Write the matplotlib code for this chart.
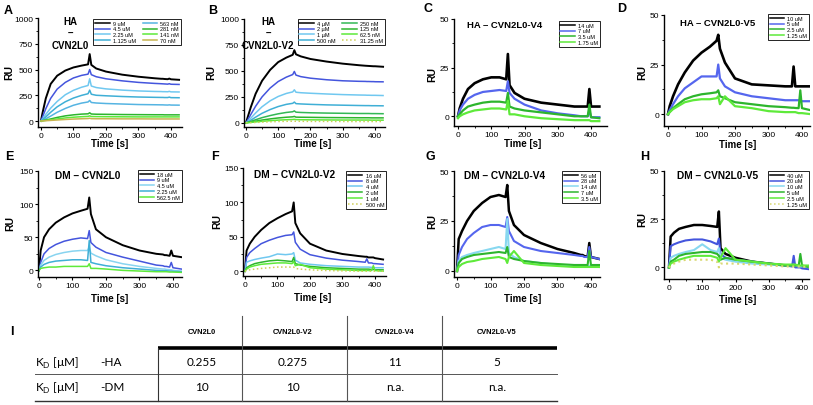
import numpy as np
import matplotlib
matplotlib.use('Agg')
import matplotlib.pyplot as plt
from matplotlib.ticker import MultipleLocator

plt.rcParams['font.family'] = ['Liberation Sans', 'DejaVu Sans']
plt.rcParams['mathtext.fontset'] = 'custom'
plt.rcParams['mathtext.rm'] = 'Lato'

# common time grid [s] of the sensorgrams
t = [0, 5, 15, 30, 50, 75, 100, 125, 145, 150, 155, 170, 200, 250, 300, 350, 370, 375, 380, 390, 395, 400, 425]

# A  HA - CVN2L0
a_9uM = [0, 80, 220, 360, 440, 490, 520, 538, 550, 650, 545, 510, 480, 450, 430, 415, 410, 410, 408, 406, 412, 405, 400]
a_4p5uM = [0, 40, 120, 220, 310, 375, 418, 443, 455, 500, 450, 430, 410, 390, 375, 365, 362, 361, 360, 358, 362, 357, 355]
a_2p25uM = [0, 20, 65, 125, 190, 255, 298, 328, 345, 410, 340, 325, 312, 300, 292, 287, 286, 285, 285, 284, 288, 283, 282]
a_1p125uM = [0, 12, 40, 85, 138, 187, 223, 249, 265, 300, 260, 250, 245, 238, 233, 230, 229, 229, 228, 228, 232, 227, 226]
a_563nM = [0, 6, 22, 48, 85, 122, 153, 174, 185, 200, 180, 175, 170, 165, 160, 158, 157, 157, 156, 155, 157, 155, 154]
a_281nM = [0, 3, 10, 20, 35, 50, 60, 67, 70, 80, 68, 66, 65, 63, 62, 61, 61, 61, 60, 60, 60, 60, 60]
a_141nM = [0, 2, 6, 12, 20, 30, 37, 42, 45, 50, 44, 43, 42, 41, 40, 40, 40, 40, 40, 40, 40, 40, 40]
a_70nM = [0, 1, 3, 6, 10, 15, 19, 22, 24, 27, 23, 22, 22, 21, 21, 20, 20, 20, 20, 20, 20, 20, 20]
a_labels = ['9 uM', '4.5 uM', '2.25 uM', '1.125 uM', '563 nM', '281 nM', '141 nM', '70 nM']

# B  HA - CVN2L0-V2
b_4uM = [0, 50, 150, 280, 405, 510, 585, 628, 655, 700, 660, 640, 615, 590, 570, 555, 550, 549, 548, 546, 545, 545, 540]
b_2uM = [0, 25, 80, 160, 250, 335, 398, 440, 465, 495, 460, 445, 430, 415, 405, 400, 399, 398, 398, 397, 397, 396, 395]
b_1uM = [0, 12, 45, 95, 155, 212, 254, 283, 298, 318, 295, 290, 285, 278, 272, 268, 267, 266, 266, 265, 265, 265, 263]
b_500nM = [0, 7, 25, 55, 92, 128, 157, 178, 188, 200, 185, 182, 178, 173, 170, 167, 166, 166, 166, 165, 165, 165, 164]
b_250nM = [0, 4, 14, 30, 50, 70, 87, 100, 107, 115, 103, 100, 97, 94, 92, 90, 90, 90, 90, 89, 89, 89, 88]
b_125nM = [0, 2, 8, 16, 27, 38, 47, 54, 58, 62, 55, 54, 53, 51, 50, 49, 49, 49, 49, 48, 48, 48, 48]
b_62nM = [0, 1, 4, 9, 15, 21, 26, 30, 32, 34, 31, 30, 29, 28, 27, 27, 27, 27, 27, 26, 26, 26, 26]
b_31nM = [0, 0.5, 2, 4, 7, 10, 13, 15, 16, 17, 15, 15, 14, 14, 13, 13, 13, 13, 13, 13, 13, 13, 13]
b_labels = ['4 µM', '2 µM', '1 µM', '500 nM', '250 nM', '125 nM', '62.5 nM', '31.25 nM']

# C  HA - CVN2L0-V4
c_14uM = [0, 4, 9, 14, 17, 19, 20, 20, 19, 32, 16, 12, 9, 7, 6, 5, 5, 5, 5, 5, 14, 5, 5]
c_7uM = [0, 3, 6, 9, 11, 12.5, 13, 13.5, 13, 18, 12, 9, 6, 3, 1.5, 0.5, 0, 0, 0, 0, 3, -0.5, -0.5]
c_3p5uM = [0, 1, 3, 5, 6, 7, 7.5, 7.5, 7, 12, 5, 4, 3, 2, 1, 0, 0, 0, 0, 0, 6, -0.5, -1]
c_1p75uM = [-1, 0, 1, 2, 3, 3.5, 4, 4, 3.5, 8, 1, 1, 0, -1, -1.5, -2, -2, -2, -2, -2, -2, -2.5, -2.5]
c_labels = ['14 uM', '7 uM', '3.5 uM', '1.75 uM']

# D  HA - CVN2L0-V5
d_10uM = [0, 4, 9, 15, 21, 27, 31, 34, 37, 40, 33, 26, 18, 15, 14.5, 14, 14, 24, 14, 14, 14, 14, 14]
d_5uM = [0, 2, 5, 9, 13, 16, 19, 19, 19, 25, 18, 14, 11, 9, 8, 7, 7, 7, 7, 7, 7, 6.5, 6.5]
d_2p5uM = [0, 1, 3, 5, 7.5, 9, 10, 10.5, 11, 12, 9, 8, 6, 5, 4, 3.5, 3.2, 3.2, 3.1, 3, 12, 3, 2]
d_1p25uM = [0, 1, 2.5, 4, 6, 7, 7.5, 7.5, 8, 9, 5, 9, 4, 3, 1.5, 1, 1, 1, 1, 0.5, 0.5, 0.5, 0]
d_labels = ['10 uM', '5 uM', '2.5 uM', '1.25 uM']

# E  DM - CVN2L0
e_18uM = [0, 30, 50, 62, 72, 80, 86, 90, 93, 110, 85, 62, 50, 38, 30, 25, 24, 23, 23, 22, 30, 22, 20]
e_9uM = [0, 12, 25, 33, 39, 44, 47, 49, 48, 60, 42, 35, 27, 20, 14, 8, 7, 6, 6, 5, 12, 4, 2]
e_4p5uM = [0, 8, 15, 20, 24, 27, 29, 30, 30, 35, 26, 22, 16, 10, 6, 3, 2, 2, 1.5, 1, 1, 0, -1]
e_2p25uM = [0, 5, 9, 12, 14, 15, 16, 16, 15, 45, 12, 10, 7, 4, 2, 0, -0.5, -0.5, -0.5, -1, -1, -1.5, -2]
e_562nM = [0, 3, 4, 5, 5, 6, 6, 6, 6, 10, 3, 3, 2, 0, -1, -2, -2, -2, -2, -2.5, -2.5, -2.5, -3]
e_labels = ['18 uM', '9 uM', '4.5 uM', '2.25 uM', '562.5 nM']

# F  DM - CVN2L0-V2
f_16uM = [0, 30, 40, 50, 60, 70, 77, 83, 87, 100, 70, 55, 40, 30, 25, 22, 21, 21, 20, 20, 20, 19, 17]
f_8uM = [0, 20, 27, 33, 40, 45, 49, 52, 53, 57, 42, 32, 24, 19, 16, 14, 13, 18, 12, 12, 11, 11, 10]
f_4uM = [0, 13, 15, 17, 19, 21, 25, 24, 25, 27, 16, 12, 10, 8, 7, 6, 6, 6, 6, 5.5, 5.5, 5, 5]
f_2uM = [0, 5, 8, 11, 13, 15, 16, 15, 14, 20, 11, 9, 7, 5, 4, 3, 3, 3, 3, 2.5, 2.5, 2, 2]
f_1uM = [0, 3, 6, 8, 10, 11, 12, 12, 11, 14, 8, 10, 5, 3, 2, 1, 1, 1, 1, 1, 8, 1, 0]
f_500nM = [0, 1, 2, 3, 4, 5, 6, 6, 6, 6, 4, 3, 2, 1, 0.5, 0, 0, 0, 0, 0, 0, 0, 0]
f_labels = ['16 uM', '8 uM', '4 uM', '2 uM', '1 uM', '500 nM']

# G  DM - CVN2L0-V4
g_56uM = [0, 16, 20, 25, 30, 34, 37, 38, 37, 43, 30, 23, 18, 14, 11, 9, 8, 8, 7.5, 7, 14, 7, 6]
g_28uM = [0, 8, 12, 16, 19, 22, 23, 23, 22, 27, 20, 15, 12, 10, 9, 8, 7.5, 7.5, 7, 7, 12, 7, 6]
g_14uM = [0, 5, 7, 8, 9, 10, 11, 12, 11, 26, 9, 7, 5, 4, 3, 3, 3, 3, 3, 2.5, 2.5, 2.5, 2]
g_7uM = [0, 4, 6, 7, 8, 8.5, 9, 9.5, 9, 12, 7, 6, 5, 4, 3.5, 3, 3, 3, 3, 3, 10, 3, 3]
g_3p5uM = [0, 2, 3.5, 4.5, 5, 6, 6.5, 7, 6, 4, 7, 10, 4, 3, 2.5, 2, 2, 2, 2, 2, 2, 2, 2]
g_labels = ['56 uM', '28 uM', '14 uM', '7 uM', '3.5 uM']

# H  DM - CVN2L0-V5
h_40uM = [0, 16, 18, 20, 21, 22, 22, 21.5, 21, 29, 10, 7, 5, 3, 2, 1, 1, 1, 0.5, 0.5, 0.5, 0, 0]
h_20uM = [0, 11, 12, 13, 14, 14.5, 14.5, 13.5, 12, 15, 7, 5, 4, 3, 2, 1, 0.5, 6, 0, 0, 0, -0.5, -1]
h_10uM = [0, 5, 6, 7, 8, 9, 12, 9, 8, 10, 5, 4, 3, 2, 1.5, 1, 1, 1, 1, 0.5, 0.5, 0.5, 0]
h_5uM = [0, 3, 4, 6, 7, 7.5, 8, 8, 7, 6, 4, 5, 4, 3, 2, 1, 1, 1, 1, 1, 7, 1, 0]
h_2p5uM = [0, 2, 3, 4, 5, 6, 6, 6, 5, 3, 5, 10, 4, 3, 2, 1.5, 1.5, 1.5, 1.5, 1, 1, 1, 1]
h_1p25uM = [0, 1, 2, 3, 4, 4, 4, 4, 3, 0, 2, 2, 2, 1.5, 1, 0.5, 0.5, 0.5, 0.5, 0.5, 0.5, 0.5, 0]
h_labels = ['40 uM', '20 uM', '10 uM', '5 uM', '2.5 uM', '1.25 uM']

# I  table
tab_cols = ['CVN2L0', 'CVN2L0-V2', 'CVN2L0-V4', 'CVN2L0-V5']
tab_rows = ['-HA', '-DM']
kd_ha = ['0.255', '0.275', '11', '5']
kd_dm = ['10', '10', 'n.a.', 'n.a.']

W, H = 813, 406
fig = plt.figure(figsize=(W / 100, H / 100), dpi=100)


def px_axes(l, tp, r, b):
    return fig.add_axes([l / W, 1 - b / H, (r - l) / W, (b - tp) / H])


def ftext(x, y, s, **kw):
    fig.text(x / W, 1 - y / H, s, **kw)


def panel(box, xlim, ylim, ymaj, curves, colors, labels, styles, leg_box, ncol, lw=1.1):
    ax = px_axes(*box)
    for y, c, lab, ls in zip(curves, colors, labels, styles):
        ax.plot(t, y, color=c, lw=lw + 0.3 if c == 'black' else lw, ls=ls, label=lab)
    ax.set_xlim(*xlim)
    ax.set_ylim(*ylim)
    ax.set_xticks([0, 100, 200, 300, 400])
    ax.yaxis.set_major_locator(MultipleLocator(ymaj))
    ax.xaxis.set_minor_locator(MultipleLocator(50))
    ax.yaxis.set_minor_locator(MultipleLocator(ymaj / 2))
    ax.spines['top'].set_visible(False)
    ax.spines['right'].set_visible(False)
    for s in ['left', 'bottom']:
        ax.spines[s].set_linewidth(1.0)
    ax.tick_params(which='major', direction='out', length=2.5, width=0.8, labelsize=6, pad=1)
    ax.tick_params(which='minor', direction='out', length=1.5, width=0.6)
    ax.set_ylim(*ylim)
    lx, ly = leg_box
    leg = ax.legend(loc='upper right', bbox_to_anchor=(lx / W, 1 - ly / H),
                    bbox_transform=fig.transFigure, ncol=ncol, fontsize=4,
                    frameon=True, fancybox=False, framealpha=1, edgecolor='black',
                    handlelength=2.6, handletextpad=0.6, labelspacing=0.15,
                    borderpad=0.3, columnspacing=1.2, borderaxespad=0)
    leg.get_frame().set_linewidth(0.6)
    for ln in leg.get_lines():
        ln.set_linewidth(1.1)
    return ax


blk = 'black'
blu = '#4455DD'
sky = '#70C8F0'
cya = '#3FAFD6'
grn = '#2DB52D'
lgr = '#5EEA3A'
yel = '#CFCF55'

panel((38, 19, 182, 128), (-9, 434), (-58, 1000), 250,
      [a_9uM, a_4p5uM, a_2p25uM, a_1p125uM, a_563nM, a_281nM, a_141nM, a_70nM],
      [blk, blu, sky, cya, '#55B4E2', grn, lgr, '#C8B450'], a_labels,
      ['-', '-', '-', '-', '-', '-', '-', '-'], (181, 20), 2)
panel((244, 20, 385, 128), (-6, 431), (-40, 1000), 250,
      [b_4uM, b_2uM, b_1uM, b_500nM, b_250nM, b_125nM, b_62nM, b_31nM],
      [blk, blu, sky, cya, '#33B855', grn, lgr, yel], b_labels,
      ['-', '-', '-', '-', '-', '-', '-', ':'], (385, 20), 2)
panel((454, 20, 607, 127), (-12, 448), (-5, 50), 25,
      [c_14uM, c_7uM, c_3p5uM, c_1p75uM],
      [blk, '#5566EE', grn, lgr], c_labels, ['-'] * 4, (600, 22), 1, lw=1.6)
panel((664, 16, 810, 127), (-12, 424), (-6, 50), 25,
      [d_10uM, d_5uM, d_2p5uM, d_1p25uM],
      [blk, '#5566EE', grn, lgr], d_labels, ['-'] * 4, (809, 15), 1, lw=1.6)
panel((38, 172, 182, 278), (-3, 427), (-10, 150), 50,
      [e_18uM, e_9uM, e_4p5uM, e_2p25uM, e_562nM],
      [blk, blu, '#88D4F0', cya, lgr], e_labels, ['-'] * 5, (182, 171), 1)
panel((243, 169, 386, 277), (-6, 434), (-7, 150), 50,
      [f_16uM, f_8uM, f_4uM, f_2uM, f_1uM, f_500nM],
      [blk, blu, sky, grn, lgr, yel], f_labels,
      ['-', '-', '-', '-', '-', ':'], (386, 172), 1)
panel((454, 172, 600, 278), (-9, 427), (-3, 50), 25,
      [g_56uM, g_28uM, g_14uM, g_7uM, g_3p5uM],
      [blk, '#5566EE', '#88D8F0', grn, lgr], g_labels, ['-'] * 5, (600, 172), 1, lw=1.5)
panel((664, 172, 809, 280), (-15, 421), (-6, 50), 25,
      [h_40uM, h_20uM, h_10uM, h_5uM, h_2p5uM, h_1p25uM],
      [blk, blu, '#88D8F0', grn, lgr, '#D8D870'], h_labels,
      ['-', '-', '-', '-', '-', ':'], (809, 172), 1, lw=1.5)

# panel letters, titles and axis labels
for lt, x, y in [('A', 8, 11), ('B', 213, 11), ('C', 428, 9), ('D', 622, 9),
                 ('E', 9, 157), ('F', 215, 157), ('G', 430, 157), ('H', 645, 157)]:
    ftext(x, y, lt, fontsize=9, fontweight='bold', ha='center', va='center')

ftext(70, 34, 'HA\n–\nCVN2L0', fontsize=7, fontweight='bold', ha='center', va='center', linespacing=1.25)
ftext(268, 34, 'HA\n–\nCVN2L0-V2', fontsize=7, fontweight='bold', ha='center', va='center', linespacing=1.25)
ftext(505, 25, 'HA – CVN2L0-V4', fontsize=6.8, fontweight='bold', ha='center', va='center')
ftext(718, 24, 'HA – CVN2L0-V5', fontsize=6.8, fontweight='bold', ha='center', va='center')
ftext(88, 176, 'DM – CVN2L0', fontsize=7.3, fontweight='bold', ha='center', va='center')
ftext(295, 175, 'DM – CVN2L0-V2', fontsize=7.3, fontweight='bold', ha='center', va='center')
ftext(505, 176, 'DM – CVN2L0-V4', fontsize=7.3, fontweight='bold', ha='center', va='center')
ftext(718, 176, 'DM – CVN2L0-V5', fontsize=7.3, fontweight='bold', ha='center', va='center')

for x, y in [(9, 72), (211, 72), (432, 74), (642, 72), (10, 224), (217, 222), (432, 222), (642, 220)]:
    ftext(x, y, 'RU', fontsize=7.5, fontweight='bold', rotation=90, ha='center', va='center')
for x, y in [(110, 144), (313, 144), (523, 144), (738, 145), (110, 299), (313, 298), (523, 299), (738, 300)]:
    ftext(x, y, 'Time [s]', fontsize=7, fontweight='bold', ha='center', va='center')

# table I
tab = fig.add_axes([0, 0, 1, 1], zorder=-1)
tab.set_xlim(0, W)
tab.set_ylim(H, 0)
tab.axis('off')
ftext(12, 332, 'I', fontsize=9, fontweight='bold', ha='center', va='center')
col_x = [202, 293, 395, 497]
for x, s in zip(col_x, tab_cols):
    ftext(x, 333, s, fontsize=5.3, fontweight='bold', ha='center', va='center',
          family=['Liberation Sans Narrow', 'Liberation Sans'])
tab.plot([158, 557], [349, 349], color='black', lw=2.6, solid_capstyle='butt')
tab.plot([35, 557], [375, 375], color='#555555', lw=0.7)
tab.plot([35, 557], [402, 402], color='#333333', lw=1.0)
tab.plot([158, 158], [349, 402], color='#333333', lw=0.8)
for x in [242, 347, 442]:
    tab.plot([x, x], [317, 402], color='#555555', lw=0.8)
for y, rname, vals in [(363, tab_rows[0], kd_ha), (388, tab_rows[1], kd_dm)]:
    ftext(35, y, r'K$_\mathrm{D}$ [µM]', fontsize=8.5, family='Lato', ha='left', va='center')
    ftext(100, y, rname, fontsize=8.5, family='Lato', ha='left', va='center')
    for x, v in zip(col_x, vals):
        ftext(x, y, v, fontsize=8.5, family='Lato', ha='center', va='center')

plt.savefig('out.png', dpi=100)
plt.close(fig)
